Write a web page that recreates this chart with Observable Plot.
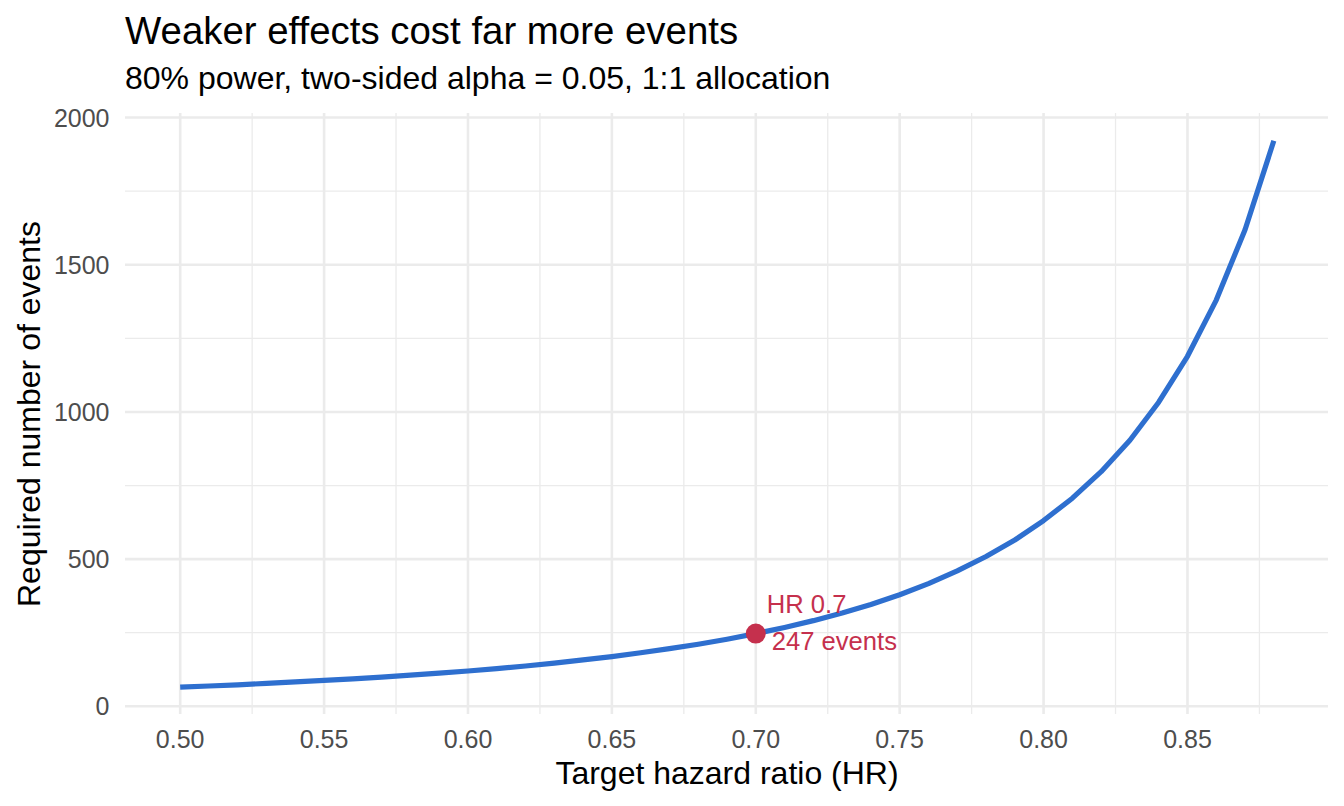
<!DOCTYPE html>
<html><head><meta charset="utf-8">
<script src="https://cdn.jsdelivr.net/npm/d3@7"></script>
<script src="https://cdn.jsdelivr.net/npm/@observablehq/plot@0.6"></script>
<style>
body{margin:0;background:#fff;font-family:"Liberation Sans",Arial,Helvetica,sans-serif;}
#wrap{position:relative;width:1344px;height:806px;overflow:hidden;}
#title{position:absolute;left:125px;top:12px;font-size:38.4px;line-height:1;color:#000;white-space:nowrap;}
#subtitle{position:absolute;left:125px;top:62px;font-size:32px;line-height:1;color:#000;white-space:nowrap;}
#chart{position:absolute;left:0;top:100px;}
</style></head>
<body>
<div id="wrap">
  <div id="title">Weaker effects cost far more events</div>
  <div id="subtitle">80% power, two-sided alpha = 0.05, 1:1 allocation</div>
  <div id="chart"></div>
</div>
<script>
// Target hazard ratios and required number of events
const hazardRatio = [0.50,0.51,0.52,0.53,0.54,0.55,0.56,0.57,0.58,0.59,
  0.60,0.61,0.62,0.63,0.64,0.65,0.66,0.67,0.68,0.69,
  0.70,0.71,0.72,0.73,0.74,0.75,0.76,0.77,0.78,0.79,
  0.80,0.81,0.82,0.83,0.84,0.85,0.86,0.87,0.88];
const requiredEvents = [65,69,73,78,83,88,93,99,106,113,
  120,128,137,147,158,169,182,196,211,228,
  247,268,291,317,346,379,417,460,509,565,
  631,707,797,904,1033,1189,1380,1619,1921];

// Highlighted point
const highlightHR = [0.70];
const highlightEvents = [247];
const highlightLine1 = ["HR 0.7"];
const highlightLine2 = ["247 events"];

// Tick values
const xTicks = [0.50,0.55,0.60,0.65,0.70,0.75,0.80,0.85];
const xMinorTicks = [0.525,0.575,0.625,0.675,0.725,0.775,0.825,0.875];
const yTicks = [0,500,1000,1500,2000];
const yMinorTicks = [250,750,1250,1750];

const data = hazardRatio.map((h, i) => ({hr: h, events: requiredEvents[i]}));
const highlight = highlightHR.map((h, i) => ({hr: h, events: highlightEvents[i], l1: highlightLine1[i], l2: highlightLine2[i]}));

const gridColor = "#EBEBEB";
const lineColor = "#2E6FCF";
const accent = "#C5304D";

const chart = Plot.plot({
  width: 1344,
  height: 706,
  marginTop: 13,
  marginBottom: 92,
  marginLeft: 125,
  marginRight: 16,
  style: {fontFamily: "Liberation Sans, Arial, Helvetica, sans-serif", color: "#4D4D4D", background: "#fff", overflow: "visible"},
  x: {domain: [0.481, 0.899]},
  y: {domain: [-27.8, 2013.8]},
  marks: [
    Plot.ruleY(yMinorTicks, {stroke: gridColor, strokeWidth: 1.3}),
    Plot.ruleX(xMinorTicks, {stroke: gridColor, strokeWidth: 1.3}),
    Plot.ruleY(yTicks, {stroke: gridColor, strokeWidth: 2.6}),
    Plot.ruleX(xTicks, {stroke: gridColor, strokeWidth: 2.6}),
    Plot.axisY({ticks: yTicks, tickSize: 0, tickPadding: 16, fontSize: 25, dy: 1, label: null, tickFormat: d3.format("d")}),
    Plot.axisX({ticks: xTicks, tickSize: 0, tickPadding: 16, fontSize: 25, label: null, tickFormat: d3.format(".2f")}),
    Plot.line(data, {x: "hr", y: "events", stroke: lineColor, strokeWidth: 5.2, strokeLinecap: "butt", strokeLinejoin: "round"}),
    Plot.dot(highlight, {x: "hr", y: "events", r: 10, fill: accent}),
    Plot.text(highlight, {x: "hr", y: "events", text: "l1", textAnchor: "start", lineAnchor: "bottom", dx: 11, dy: -21, fontSize: 25.6, fill: accent}),
    Plot.text(highlight, {x: "hr", y: "events", text: "l2", textAnchor: "start", lineAnchor: "bottom", dx: 16, dy: 16, fontSize: 25.6, fill: accent}),
    Plot.text(["Target hazard ratio (HR)"], {frameAnchor: "bottom", dy: 69, lineAnchor: "bottom", textAnchor: "middle", fontSize: 32, fill: "#000"}),
    Plot.text(["Required number of events"], {frameAnchor: "left", rotate: -90, dx: -86, lineAnchor: "bottom", textAnchor: "middle", fontSize: 32, fill: "#000"})
  ]
});
document.getElementById("chart").appendChild(chart);
</script>
</body></html>
